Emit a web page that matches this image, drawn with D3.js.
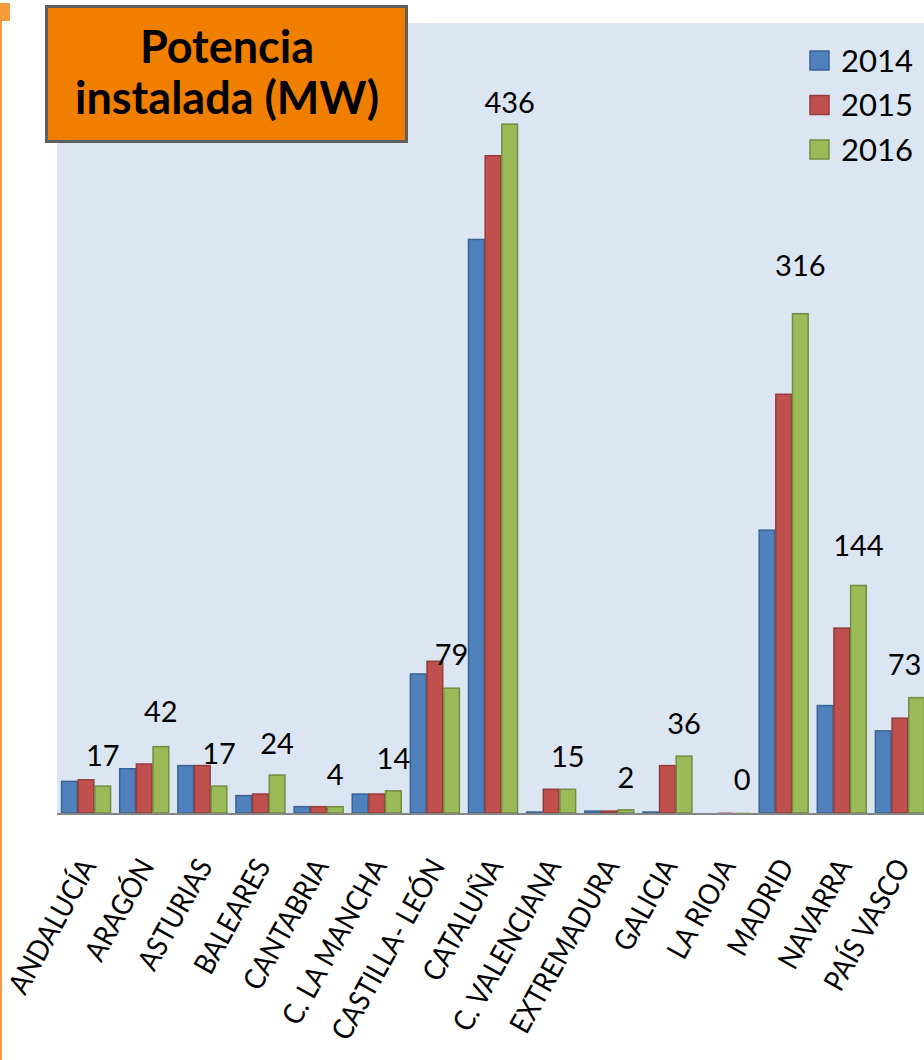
<!DOCTYPE html>
<html>
<head>
<meta charset="utf-8">
<script src="https://cdn.jsdelivr.net/npm/d3@7"></script>
<style>
  body { margin: 0; background: #fff; }
  svg { display: block; font-family: Lato, "Open Sans", sans-serif; }
</style>
</head>
<body>
<div id="chart"></div>
<script>
// data (MW)
var regions = ["ANDALUCÍA", "ARAGÓN", "ASTURIAS", "BALEARES", "CANTABRIA", "C. LA MANCHA",
  "CASTILLA- LEÓN", "CATALUÑA", "C. VALENCIANA", "EXTREMADURA", "GALICIA", "LA RIOJA",
  "MADRID", "NAVARRA", "PAÍS VASCO"];
var years = ["2014", "2015", "2016"];
var v2014 = [20, 28, 30, 11, 4, 12, 88, 363, 0.6, 1.2, 0.6, 0, 179, 68, 52];
var v2015 = [21, 31, 30, 12, 4, 12, 96, 416, 15, 1.2, 30, 0.3, 265, 117, 60];
var v2016 = [17, 42, 17, 24, 4, 14, 79, 436, 15, 2, 36, 0.3, 316, 144, 73];
var yMax = 500;

var W = 924, H = 1060;
var plot = {left: 57, top: 23, right: 924, bottom: 813};
var colors = ["#4f81bd", "#c0504d", "#9bbb59"];
var strokes = ["#3a6394", "#943c3a", "#738c41"];
// distance of each value label above its bar (as placed in the original)
var labelGap = [20, 25, 22, 21, 22, 22, 23, 11, 22, 22, 22, 23, 38, 29, 23];
var labelShift = [0, 0, 0, 0, 0, 0, 0, 0, 0, 0, 0, 0, 0, 0, -12];

var series = [v2014, v2015, v2016];
var rows = regions.map(function (r, i) {
  return {region: r, values: series.map(function (s, j) { return {year: years[j], v: s[i], j: j}; })};
});

var svg = d3.select("#chart").append("svg")
  .attr("width", W)
  .attr("height", H);

// orange page edge
svg.append("rect").attr("x", 0).attr("y", 3).attr("width", 10).attr("height", 18).attr("fill", "#f79a3a");
svg.append("rect").attr("x", 0).attr("y", 21).attr("width", 2).attr("height", H - 21).attr("fill", "#f79646");

// plot background
svg.append("rect")
  .attr("x", plot.left).attr("y", plot.top)
  .attr("width", plot.right - plot.left).attr("height", plot.bottom - plot.top)
  .attr("fill", "#dce6f2");

var x = d3.scaleBand()
  .domain(regions)
  .range([57, 929])
  .paddingInner(0.14)
  .paddingOuter(0.07);

var x1 = d3.scaleBand()
  .domain(years)
  .range([0, x.bandwidth()]);

var y = d3.scaleLinear()
  .domain([0, yMax])
  .range([plot.bottom, plot.top]);

// bars
var groups = svg.append("g").selectAll("g")
  .data(rows)
  .enter().append("g")
    .attr("transform", function (d) { return "translate(" + x(d.region) + ",0)"; });

groups.selectAll("rect")
  .data(function (d) { return d.values; })
  .enter().append("rect")
    .attr("x", function (d) { return x1(d.year) + 0.5; })
    .attr("y", function (d) { return y(d.v); })
    .attr("width", x1.bandwidth() - 1)
    .attr("height", function (d) { return y(0) - y(d.v); })
    .attr("fill", function (d) { return colors[d.j]; })
    .attr("stroke", function (d) { return d.v > 0.5 ? strokes[d.j] : "none"; })
    .attr("stroke-width", 1.5);

// value labels (2016)
svg.append("g").selectAll("text")
  .data(rows)
  .enter().append("text")
    .attr("x", function (d, i) { return x(d.region) + x1("2016") + x1.bandwidth() / 2 + labelShift[i]; })
    .attr("y", function (d, i) { return y(d.values[2].v) - labelGap[i]; })
    .attr("text-anchor", "middle")
    .attr("font-size", 29)
    .attr("fill", "#000")
    .text(function (d) { return Math.round(d.values[2].v); });

// baseline
svg.append("line")
  .attr("x1", plot.left).attr("x2", plot.right)
  .attr("y1", plot.bottom + 1).attr("y2", plot.bottom + 1)
  .attr("stroke", "#868686").attr("stroke-width", 2);

// category labels (narrowed a bit to mimic the original's condensed face)
svg.append("g").selectAll("text")
  .data(regions)
  .enter().append("text")
    .attr("transform", function (d) {
      return "translate(" + (x(d) + x.bandwidth() / 2 + 11) + ",866) rotate(-61) scale(0.9,1)";
    })
    .attr("text-anchor", "end")
    .attr("font-size", 29)
    .attr("fill", "#000")
    .text(function (d) { return d; });

// legend
var legend = svg.append("g").selectAll("g")
  .data(years)
  .enter().append("g")
    .attr("transform", function (d, i) { return "translate(810," + (51 + i * 44.5) + ")"; });
legend.append("rect")
  .attr("width", 19).attr("height", 19)
  .attr("fill", function (d, i) { return colors[i]; })
  .attr("stroke", function (d, i) { return strokes[i]; })
  .attr("stroke-width", 1.5);
legend.append("text")
  .attr("x", 31).attr("y", 20.5)
  .attr("font-size", 31)
  .attr("fill", "#000")
  .text(function (d) { return d; });

// title box
svg.append("rect")
  .attr("x", 46.5).attr("y", 6.5)
  .attr("width", 360).attr("height", 135)
  .attr("fill", "#f07f00")
  .attr("stroke", "#5f5f5f").attr("stroke-width", 3);
var title = svg.append("text")
  .attr("text-anchor", "middle")
  .attr("font-size", 45)
  .attr("font-weight", "bold")
  .attr("fill", "#000");
title.append("tspan").attr("x", 227).attr("y", 63).text("Potencia");
title.append("tspan").attr("x", 227).attr("y", 114).text("instalada (MW)");
</script>
</body>
</html>
